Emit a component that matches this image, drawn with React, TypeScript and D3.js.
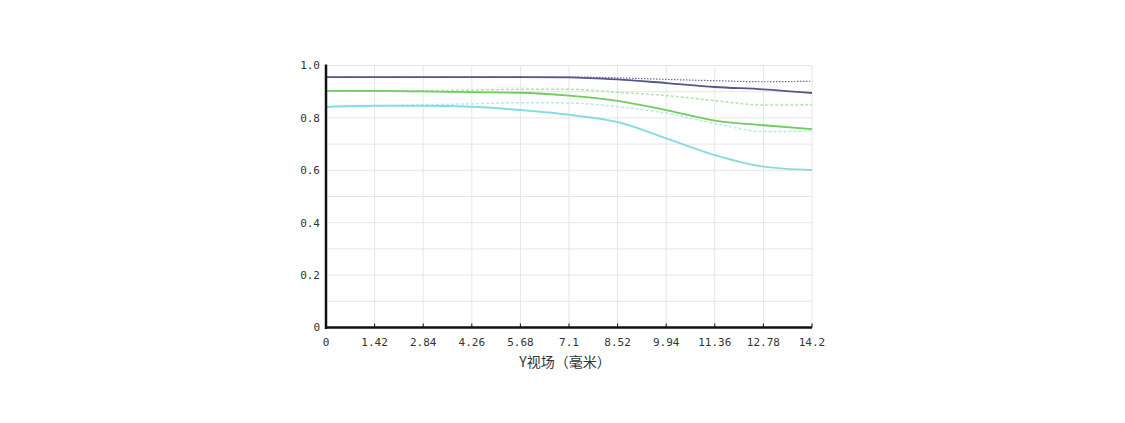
import React from "react";
import * as d3 from "d3";

const xTicks = [0, 1.42, 2.84, 4.26, 5.68, 7.1, 8.52, 9.94, 11.36, 12.78, 14.2];
const xTickLabels = ["0", "1.42", "2.84", "4.26", "5.68", "7.1", "8.52", "9.94", "11.36", "12.78", "14.2"];
const yTicks = [0, 0.2, 0.4, 0.6, 0.8, 1.0];
const yTickLabels = ["0", "0.2", "0.4", "0.6", "0.8", "1.0"];
const yGrid = [0, 0.1, 0.2, 0.3, 0.4, 0.5, 0.6, 0.7, 0.8, 0.9, 1.0];

const fieldPos = xTicks;
const navySolid = [0.956, 0.956, 0.956, 0.956, 0.956, 0.955, 0.947, 0.933, 0.918, 0.909, 0.895];
const navyDotted = [0.956, 0.956, 0.956, 0.956, 0.956, 0.956, 0.953, 0.947, 0.942, 0.938, 0.940];
const greenSolid = [0.903, 0.903, 0.901, 0.898, 0.896, 0.885, 0.865, 0.830, 0.790, 0.772, 0.757];
const greenDashed = [0.903, 0.903, 0.904, 0.906, 0.909, 0.909, 0.898, 0.885, 0.866, 0.849, 0.850];
const cyanSolid = [0.842, 0.846, 0.846, 0.843, 0.830, 0.812, 0.784, 0.722, 0.658, 0.614, 0.601];
const cyanDashed = [0.843, 0.846, 0.850, 0.854, 0.858, 0.857, 0.843, 0.818, 0.779, 0.748, 0.750];

const xLabel = "Y视场（毫米）";

export default function App() {
  const W = 1125, H = 423;
  const x = d3.scaleLinear().domain([0, 14.2]).range([326, 812]);
  const y = d3.scaleLinear().domain([0, 1]).range([327.5, 65.5]);
  const line = (vals: number[]) =>
    d3.line<number>().x((_, i) => x(fieldPos[i])).y((v) => y(v)).curve(d3.curveMonotoneX)(vals) || "";

  const series = [
    { vals: navyDotted, color: "#6a6aa0", width: 1.2, dash: "1.5,1.5" },
    { vals: greenDashed, color: "#b4e2a8", width: 1.5, dash: "3,2" },
    { vals: cyanDashed, color: "#b9e8ee", width: 1.5, dash: "3,2" },
    { vals: navySolid, color: "#55558f", width: 1.8, dash: undefined },
    { vals: greenSolid, color: "#6fcc5e", width: 1.8, dash: undefined },
    { vals: cyanSolid, color: "#86dce2", width: 2, dash: undefined },
  ];
  const mono = "'DejaVu Sans Mono', 'Liberation Mono', monospace";

  return (
    <svg width={W} height={H} style={{ position: "absolute", left: 0, top: 0, background: "#fff" }}>
      <rect width={W} height={H} fill="#fff" />
      {yGrid.map((v) => (
        <line key={"gy" + v} x1={x(0)} x2={x(14.2)} y1={y(v)} y2={y(v)} stroke="#e6e6e6" strokeWidth={1} />
      ))}
      {xTicks.map((v) => (
        <line key={"gx" + v} x1={x(v)} x2={x(v)} y1={y(1)} y2={y(0)} stroke="#e6e6e6" strokeWidth={1} />
      ))}
      {series.map((s, i) => (
        <path key={i} d={line(s.vals)} fill="none" stroke={s.color} strokeWidth={s.width} strokeDasharray={s.dash} />
      ))}
      <line x1={x(0)} x2={x(0)} y1={y(1) - 1} y2={y(0) + 1.5} stroke="#111" strokeWidth={2.5} />
      <line x1={x(0) - 1} x2={x(14.2)} y1={y(0)} y2={y(0)} stroke="#111" strokeWidth={2.5} />
      {xTicks.map((v) => (
        <line key={"tx" + v} x1={x(v)} x2={x(v)} y1={y(0)} y2={y(0) - 4} stroke="#111" strokeWidth={1} />
      ))}
      {yTicks.map((v, i) => (
        <text key={"ty" + v} x={x(0) - 6} y={y(v)} dy="0.35em" textAnchor="end" fontFamily={mono} fontSize={11} fill="#333">
          {yTickLabels[i]}
        </text>
      ))}
      {xTicks.map((v, i) => (
        <text key={"tl" + v} x={x(v)} y={y(0) + 18} textAnchor="middle" fontFamily={mono} fontSize={11} fill="#333">
          {xTickLabels[i]}
        </text>
      ))}
      <text x={565} y={367} textAnchor="middle" fontFamily="'Noto Sans CJK SC', sans-serif" fontSize={14} fill="#333">
        {xLabel}
      </text>
    </svg>
  );
}
